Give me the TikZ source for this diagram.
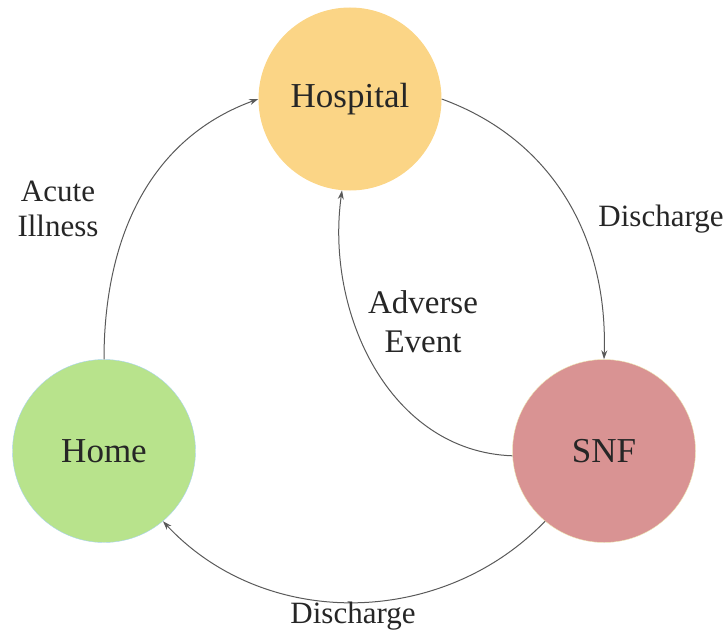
\documentclass[tikz,border=0pt]{standalone}
\usepackage{fontspec}
\setmainfont{Liberation Serif}
\usepackage{xcolor}
\usetikzlibrary{positioning, arrows.meta}

\definecolor{hospitalfill}{HTML}{FBD586}
\definecolor{homefill}{HTML}{B8E38C}
\definecolor{homeline}{HTML}{A9D4F0}
\definecolor{snffill}{HTML}{D99393}
\definecolor{snfline}{HTML}{EEEBB5}

\begin{document}
\begin{tikzpicture}[
            x=1bp, y=1bp,
            place/.style={circle, minimum size=183bp, inner sep=0pt, font=\fontsize{35bp}{40bp}\selectfont, text=black!85},
            flow/.style={-{Stealth[length=9bp,width=6bp]}, draw=black!65, line width=1bp},
            lbl/.style={align=center, font=\fontsize{31bp}{35bp}\selectfont, text=black!85}
        ]
        \useasboundingbox (0,0) rectangle (728,-632);

        \node[place, fill=hospitalfill] (hospital) at (350,-99) {Hospital};
        \node[place, fill=homefill, draw=homeline] (home) at (104,-451) {Home};
        \node[place, fill=snffill, draw=snfline] (snf) at (604,-451) {SNF};

        \draw[flow] (home.north) to[out=90, in=200] (hospital.west);
        \draw[flow] (hospital.east) to[out=-20, in=88] (snf.north);
        \draw[flow] (snf.183) to[out=178, in=262] (hospital.265);
        \draw[flow] (snf.230) to[out=-134, in=-47] (home.-50);

        \node[lbl] (acute) at (58,-209) {Acute\\Illness};
        \node[lbl] (dischargeright) at (661,-219) {Discharge};
        \node[lbl, font=\fontsize{33bp}{39bp}\selectfont] (adverse) at (423,-322) {Adverse\\Event};
        \node[lbl] (dischargebottom) at (353,-616) {Discharge};

    \end{tikzpicture}
\end{document}
